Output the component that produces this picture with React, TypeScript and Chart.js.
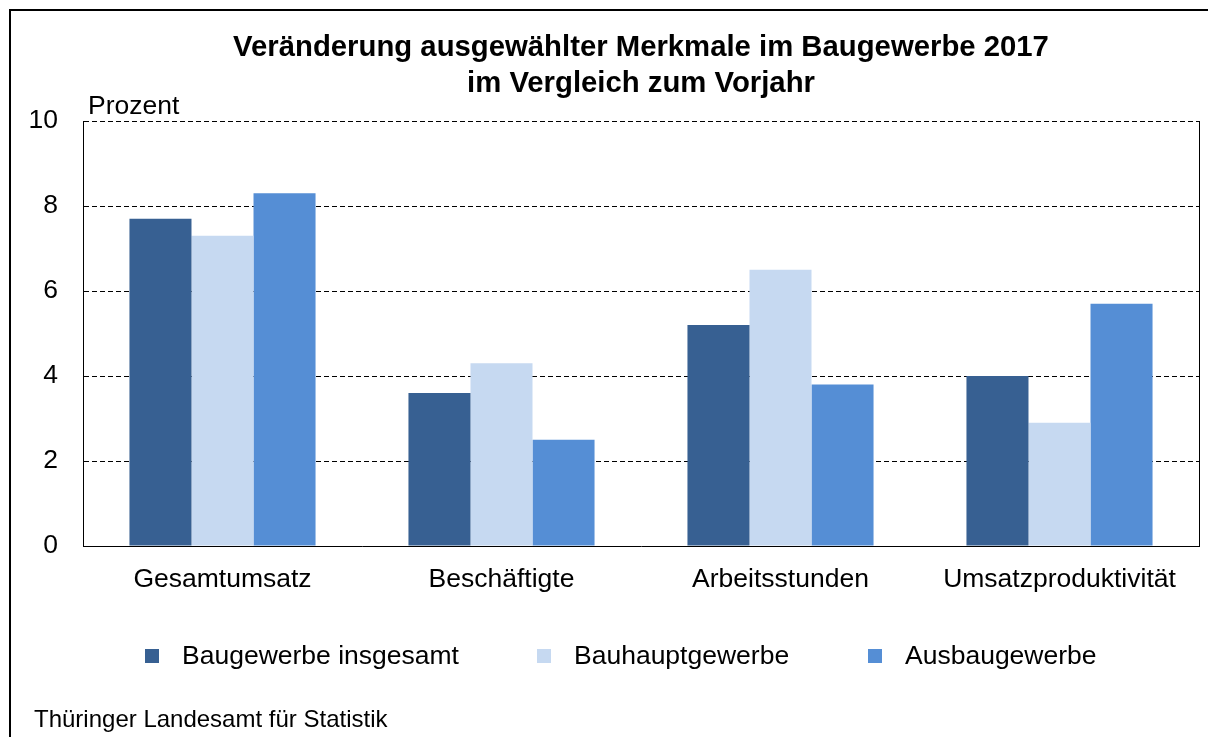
import React, { useEffect, useRef } from "react";
import { Chart, registerables } from "chart.js";

Chart.register(...registerables);

// ---- Data ----
const CATEGORIES = ["Gesamtumsatz", "Beschäftigte", "Arbeitsstunden", "Umsatzproduktivität"];
const SERIES_NAMES = ["Baugewerbe insgesamt", "Bauhauptgewerbe", "Ausbaugewerbe"];
const BAUGEWERBE_INSGESAMT = [7.7, 3.6, 5.2, 4.0];
const BAUHAUPTGEWERBE = [7.3, 4.3, 6.5, 2.9];
const AUSBAUGEWERBE = [8.3, 2.5, 3.8, 5.7];
const Y_MIN = 0;
const Y_MAX = 10;
const Y_STEP = 2;
const TITLE_LINES = ["Veränderung ausgewählter Merkmale im Baugewerbe 2017", "im Vergleich zum Vorjahr"];
const Y_UNIT = "Prozent";
const SOURCE = "Thüringer Landesamt für Statistik";

// ---- Styles ----
const FAMILY = "'Liberation Sans', Arial, Helvetica, sans-serif";
const COLORS = ["#376092", "#C6D9F1", "#558ED5"];
const TEXT_SIZE = 26.5;
const W = 1208;
const H = 737;

const decorPlugin = {
  id: "decor",
  afterDraw(chart: any) {
    const { ctx, chartArea } = chart;
    ctx.save();
    // right border of plot area
    ctx.strokeStyle = "#000";
    ctx.lineWidth = 1;
    ctx.beginPath();
    ctx.moveTo(Math.round(chartArea.right) + 0.5, chartArea.top);
    ctx.lineTo(Math.round(chartArea.right) + 0.5, chartArea.bottom);
    ctx.stroke();

    // outer frame
    ctx.lineWidth = 2;
    ctx.beginPath();
    ctx.moveTo(10, H);
    ctx.lineTo(10, 10);
    ctx.lineTo(W, 10);
    ctx.stroke();

    // unit label
    ctx.fillStyle = "#000";
    ctx.textAlign = "left";
    ctx.textBaseline = "alphabetic";
    ctx.font = `${TEXT_SIZE}px ${FAMILY}`;
    ctx.fillText(Y_UNIT, 88, 114);

    // legend
    const legendX = [145, 537, 868];
    chart.data.datasets.forEach((ds: any, i: number) => {
      const x = legendX[i];
      ctx.fillStyle = ds.backgroundColor;
      ctx.fillRect(x, 649, 14, 14);
      ctx.fillStyle = "#000";
      ctx.fillText(ds.label, x + 37, 664);
    });

    // source
    ctx.font = `24px ${FAMILY}`;
    ctx.fillText(SOURCE, 34, 727);
    ctx.restore();
  },
};

export default function App() {
  const canvasRef = useRef<HTMLCanvasElement | null>(null);

  useEffect(() => {
    const canvas = canvasRef.current;
    if (!canvas) return;
    const chart = new Chart(canvas, {
      type: "bar",
      data: {
        labels: CATEGORIES,
        datasets: [
          { label: SERIES_NAMES[0], data: BAUGEWERBE_INSGESAMT, backgroundColor: COLORS[0] },
          { label: SERIES_NAMES[1], data: BAUHAUPTGEWERBE, backgroundColor: COLORS[1] },
          { label: SERIES_NAMES[2], data: AUSBAUGEWERBE, backgroundColor: COLORS[2] },
        ],
      },
      options: {
        responsive: false,
        animation: false,
        devicePixelRatio: 1,
        layout: { padding: { left: 0, right: 9, top: 0, bottom: 143 } },
        datasets: {
          bar: { categoryPercentage: 0.667, barPercentage: 1, borderWidth: 0 },
        },
        plugins: {
          legend: { display: false },
          tooltip: { enabled: false },
          title: {
            display: true,
            text: TITLE_LINES,
            color: "#000",
            fullSize: false,
            font: { family: FAMILY, size: 29.3, weight: "bold", lineHeight: "36px" },
            padding: { top: 29.5, bottom: 19.5 },
          },
        },
        scales: {
          x: {
            grid: { display: false, drawTicks: false },
            border: { display: true, color: "#000", width: 1 },
            ticks: {
              color: "#000",
              font: { family: FAMILY, size: TEXT_SIZE },
              padding: 18,
              maxRotation: 0,
              autoSkip: false,
            },
            afterFit(scale: any) {
              scale.height = 48;
            },
          },
          y: {
            min: Y_MIN,
            max: Y_MAX,
            grid: { color: "#000", lineWidth: 1, drawTicks: false },
            border: { display: true, color: "#000", width: 1, dash: [5, 3] },
            ticks: {
              stepSize: Y_STEP,
              color: "#000",
              font: { family: FAMILY, size: TEXT_SIZE },
              padding: 25,
            },
            afterFit(scale: any) {
              scale.width = 83;
            },
          },
        },
      },
      plugins: [decorPlugin],
    });
    return () => chart.destroy();
  }, []);

  return (
    <div style={{ position: "fixed", left: 0, top: 0, width: W, height: H, background: "#fff" }}>
      <canvas ref={canvasRef} width={W} height={H} style={{ display: "block", width: W, height: H }} />
    </div>
  );
}
